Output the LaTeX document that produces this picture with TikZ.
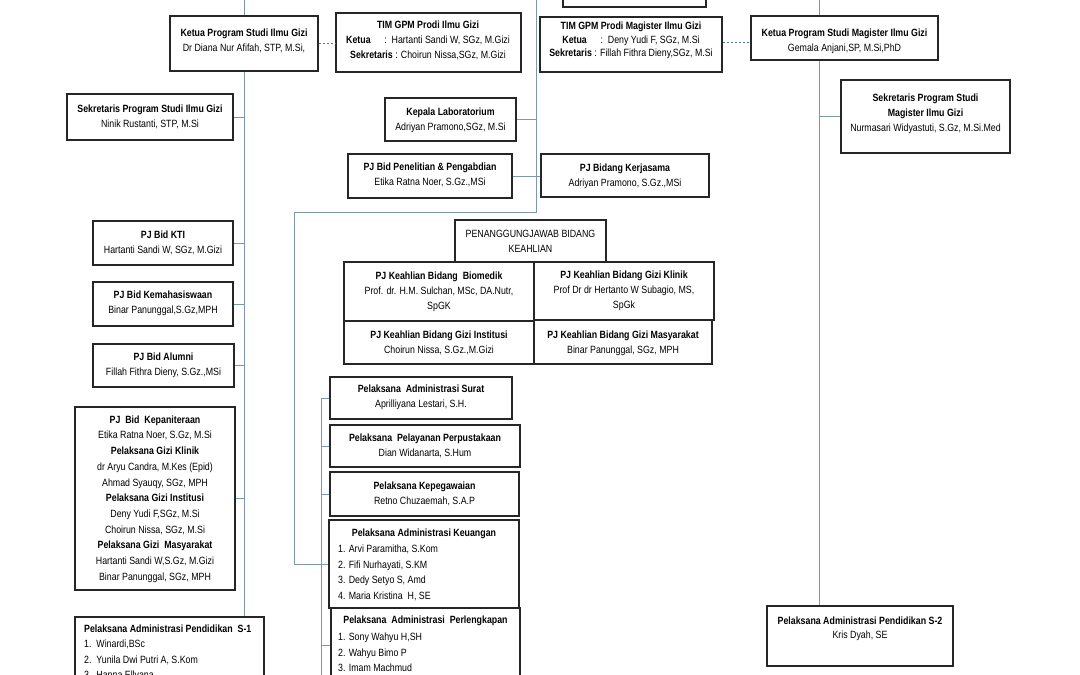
\documentclass[tikz,border=0pt]{standalone}
\usepackage{fontspec}
\setmainfont{Liberation Sans}[FakeStretch=0.84]
\definecolor{lnc}{RGB}{125,150,180}
\definecolor{dsc}{RGB}{85,120,170}
\newcommand\bx[5]{\node[box, minimum width={#3pt-#1pt}, minimum height={#4pt-#2pt}] (#5) at ({(#1+#3)/2},{(#2+#4)/2}) {};}
\newcommand\tx[4]{\node[txt] (#1-t) at (#2,#3) {#4};}
\begin{document}
\begin{tikzpicture}[x=1pt,y=-1pt,
 box/.style={draw=black!85, line width=1.1pt, fill=white, inner sep=0pt, rectangle},
 txt/.style={font=\fontsize{10.5}{15}\selectfont, align=center, inner sep=0pt},
 ltxt/.style={font=\fontsize{10.5}{15.5}\selectfont, align=left, inner sep=0pt, anchor=west},
 conn/.style={draw=lnc, line width=0.9pt},
 dashconn/.style={draw=dsc, line width=0.9pt, dash pattern=on 2.5pt off 1.5pt}]
\useasboundingbox (0,0) rectangle (1080,675);
\clip (0,0) rectangle (1080,675);
\fill[white] (0,0) rectangle (1080,675);
% boxes
\bx{563}{-20}{706}{7}{topbox}
\bx{170}{16}{318}{71}{ketua}
\bx{336}{13}{521}{72}{timgpm}
\bx{540}{17}{722}{72}{timM}
\bx{751}{16}{938}{60}{ketuaM}
\bx{841}{80}{1010}{153}{sekM}
\bx{67}{94}{233}{140}{sek}
\bx{385}{98}{516}{141}{lab}
\bx{348}{154}{512}{198}{pen}
\bx{541}{154}{709}{197}{ker}
\bx{455}{220}{606}{262}{pjb}
\bx{344}{262}{534}{321}{bio}
\bx{534}{262}{714}{320}{kli}
\bx{344}{321}{534}{364}{ins}
\bx{534}{320}{712}{364}{mas}
\bx{93}{221}{233}{265}{kti}
\bx{93}{282}{233}{326}{kem}
\bx{93}{344}{234}{387}{alu}
\bx{75}{407}{235}{590}{kep}
\bx{75}{617}{264}{700}{sone}
\bx{330}{377}{512}{419}{surat}
\bx{330}{425}{520}{467}{pel}
\bx{330}{472}{519}{516}{kpg}
\bx{329}{520}{519}{608}{keu}
\bx{331}{608}{520}{682}{perl}
\bx{767}{606}{953}{666}{stwo}
% connectors
\coordinate (tL) at (244,0);
\coordinate (tC) at (536,0);
\coordinate (tR) at (819,0);
\coordinate (cn) at (536,212);
\coordinate (cw) at (294,212);
\coordinate (bt) at (321,398);
\coordinate (bb) at (321,700);
\coordinate (dm) at (722,42);
\draw[conn] (tL) -- (ketua.north);
\draw[conn] (ketua.south) -- (ketua.south |- sone.north);
\foreach \n in {sek,kti,kem,alu,kep} \draw[conn] (\n.east) -- (\n.east -| ketua.south);
\draw[dashconn] (ketua.east) -- (ketua.east -| timgpm.west);
\draw[dashconn] (timM.east |- dm) -- (ketuaM.west |- dm);
\draw[conn] (tC) -- (cn) -- (cw) -- (cw |- keu.west) -- (keu.west);
\draw[conn] (lab.east) -- (lab.east -| tC);
\draw[conn] (pen.east) -- (pen.east -| ker.west);
\draw[conn] (bt) -- (bb);
\foreach \n in {surat,pel,kpg,perl} \draw[conn] (\n.west) -- (\n.west -| bt);
\draw[conn] (tR) -- (tR |- ketuaM.north);
\draw[conn] (tR |- ketuaM.south) -- (tR |- stwo.north);
\draw[conn] (sekM.west) -- (sekM.west -| tR);
% texts
\tx{ketua}{244}{40.5}{\textbf{Ketua Program Studi Ilmu Gizi}\\Dr Diana Nur Afifah, STP, M.Si,}
\tx{timgpm}{428}{40}{\textbf{TIM GPM Prodi Ilmu Gizi}\\\textbf{Ketua}\hspace{1.3em}:\ \ Hartanti Sandi W, SGz, M.Gizi\\\textbf{Sekretaris} : Choirun Nissa,SGz, M.Gizi}
\node[txt, font=\fontsize{10.5}{13.5}\selectfont] (timM-t) at (631,40.5) {\textbf{TIM GPM Prodi Magister Ilmu Gizi}\\\textbf{Ketua}\hspace{1.3em}:\ \ Deny Yudi F, SGz, M.Si\\\textbf{Sekretaris} : Fillah Fithra Dieny,SGz, M.Si};
\tx{ketuaM}{844.5}{41}{\textbf{Ketua Program Studi Magister Ilmu Gizi}\\Gemala Anjani,SP, M.Si,PhD}
\tx{sekM}{925.5}{114}{\textbf{Sekretaris Program Studi}\\\textbf{Magister Ilmu Gizi}\\Nurmasari Widyastuti, S.Gz, M.Si.Med}
\tx{sek}{150}{117}{\textbf{Sekretaris Program Studi Ilmu Gizi}\\Ninik Rustanti, STP, M.Si}
\tx{lab}{450.5}{120}{\textbf{Kepala Laboratorium}\\Adriyan Pramono,SGz, M.Si}
\tx{pen}{430}{175}{\textbf{PJ Bid Penelitian \& Pengabdian}\\Etika Ratna Noer, S.Gz.,MSi}
\tx{ker}{625}{176}{\textbf{PJ Bidang Kerjasama}\\Adriyan Pramono, S.Gz.,MSi}
\tx{pjb}{530.5}{241.5}{PENANGGUNGJAWAB BIDANG\\KEAHLIAN}
\tx{bio}{439}{292}{\textbf{PJ Keahlian Bidang\ \ Biomedik}\\Prof. dr. H.M. Sulchan, MSc, DA.Nutr,\\SpGK}
\tx{kli}{624}{291}{\textbf{PJ Keahlian Bidang Gizi Klinik}\\Prof Dr dr Hertanto W Subagio, MS,\\SpGk}
\tx{ins}{439}{343}{\textbf{PJ Keahlian Bidang Gizi Institusi}\\Choirun Nissa, S.Gz.,M.Gizi}
\tx{mas}{623}{343}{\textbf{PJ Keahlian Bidang Gizi Masyarakat}\\Binar Panunggal, SGz, MPH}
\tx{kti}{163}{242.5}{\textbf{PJ Bid KTI}\\Hartanti Sandi W, SGz, M.Gizi}
\tx{kem}{163}{303.5}{\textbf{PJ Bid Kemahasiswaan}\\Binar Panunggal,S.Gz,MPH}
\tx{alu}{163.5}{365.5}{\textbf{PJ Bid Alumni}\\Fillah Fithra Dieny, S.Gz.,MSi}
\node[txt, font=\fontsize{10.5}{15.7}\selectfont] (kep-t) at (155,499) {\textbf{PJ\ \ Bid\ \ Kepaniteraan}\\Etika Ratna Noer, S.Gz, M.Si\\\textbf{Pelaksana Gizi Klinik}\\dr Aryu Candra, M.Kes (Epid)\\Ahmad Syauqy, SGz, MPH\\\textbf{Pelaksana Gizi Institusi}\\Deny Yudi F,SGz, M.Si\\Choirun Nissa, SGz, M.Si\\\textbf{Pelaksana Gizi\ \ Masyarakat}\\Hartanti Sandi W,S.Gz, M.Gizi\\Binar Panunggal, SGz, MPH};
\tx{surat}{421}{397}{\textbf{Pelaksana\ \ Administrasi Surat}\\Aprilliyana Lestari, S.H.}
\tx{pel}{425}{445.5}{\textbf{Pelaksana\ \ Pelayanan Perpustakaan}\\Dian Widanarta, S.Hum}
\tx{kpg}{424.5}{493.5}{\textbf{Pelaksana Kepegawaian}\\Retno Chuzaemah, S.A.P}
\tx{keu}{424}{534}{\textbf{Pelaksana Administrasi Keuangan}}
\node[ltxt] (keu-l) at (338,573) {1. Arvi Paramitha, S.Kom\\2. Fifi Nurhayati, S.KM\\3. Dedy Setyo S, Amd\\4. Maria Kristina\ \ H, SE};
\tx{perl}{425.5}{621}{\textbf{Pelaksana\ \ Administrasi\ \ Perlengkapan}}
\node[ltxt] (perl-l) at (338,652.5) {1. Sony Wahyu H,SH\\2. Wahyu Bimo P\\3. Imam Machmud};
\node[ltxt] (sone-t) at (84,653) {\textbf{Pelaksana Administrasi Pendidikan\ \ S-1}\\1.\ \ Winardi,BSc\\2.\ \ Yunila Dwi Putri A, S.Kom\\3.\ \ Hanna Ellyana};
\node[txt, font=\fontsize{10.5}{14}\selectfont] (stwo-t) at (860,629) {\textbf{Pelaksana Administrasi Pendidikan S-2}\\Kris Dyah, SE};
\end{tikzpicture}
\end{document}
